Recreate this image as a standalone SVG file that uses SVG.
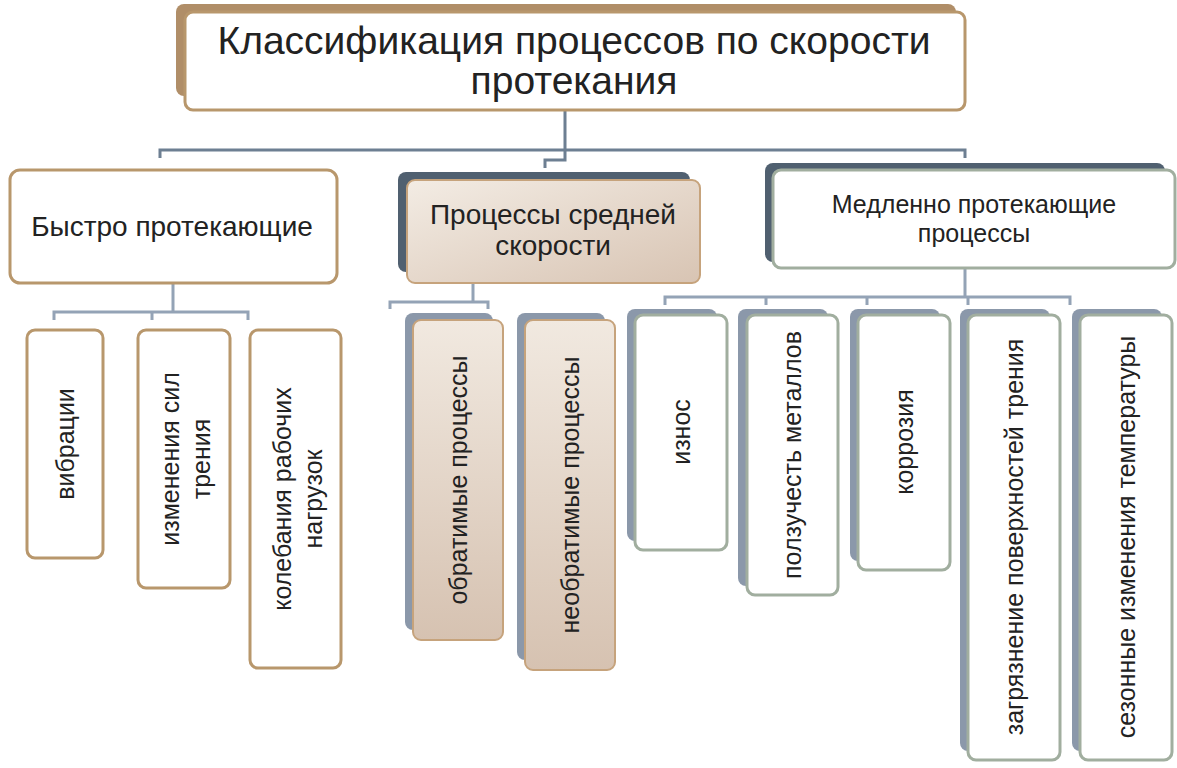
<svg xmlns="http://www.w3.org/2000/svg" width="1177" height="768" viewBox="0 0 1177 768">
<defs>
<linearGradient id="beige" x1="0" y1="0" x2="1" y2="1"><stop offset="0" stop-color="#f3ece4"/><stop offset="1" stop-color="#d8c4b3"/></linearGradient>
<linearGradient id="beigeV" x1="0" y1="0" x2="0" y2="1"><stop offset="0" stop-color="#f1e9e0"/><stop offset="1" stop-color="#d6c2b1"/></linearGradient>
<style>
text{font-family:"Liberation Sans",Arial,sans-serif;fill:#222;text-anchor:middle}
.tan{fill:#fff;stroke:#b8976c;stroke-width:3}
.grn{fill:#fff;stroke:#a1ae9f;stroke-width:3}
.bei{fill:url(#beigeV);stroke:#c6a37c;stroke-width:2}
.sd{fill:#506070}
.sb{fill:#8b98aa}
.st{fill:#b08e68}
.c{fill:none;stroke:#6d7f92;stroke-width:3}
.c2{fill:none;stroke:#94a3b6;stroke-width:3}
.v{font-size:25px}
</style>
</defs>
<rect width="1177" height="768" fill="#fff"/>
<g id="connectors">
<path class="c" d="M565 110V150M160 158V150H965V158M565 150V160H545V168"/>
<path class="c2" d="M173 283V312M54 320V312H248V320M152 312V320"/>
<path class="c2" d="M473 283V302M390 309V302H488V309"/>
<path class="c2" d="M965 268V297M665 305V297H1070V305M766 297V305M867 297V305M968 297V305"/>
</g>
<g id="root">
<rect class="st" x="176" y="4" width="780" height="92" rx="8"/>
<rect class="tan" x="185" y="12" width="780" height="98" rx="8"/>
<text x="574" y="54" font-size="39">Классификация процессов по скорости</text>
<text x="574" y="94" font-size="39">протекания</text>
</g>
<g id="fast">
<rect class="tan" x="10" y="170" width="327" height="113" rx="10"/>
<text x="172" y="236" font-size="28">Быстро протекающие</text>
</g>
<g id="medium">
<rect class="sd" x="398" y="172" width="292" height="100" rx="8"/>
<rect x="407" y="180" width="293" height="103" rx="8" fill="url(#beige)" stroke="#c6a37c" stroke-width="2"/>
<text x="553" y="224" font-size="28">Процессы средней</text>
<text x="553" y="255" font-size="28">скорости</text>
</g>
<g id="slow">
<rect class="sd" x="765" y="163" width="400" height="99" rx="8"/>
<rect class="grn" x="773" y="170" width="402" height="98" rx="8"/>
<text x="974" y="213" font-size="25">Медленно протекающие</text>
<text x="974" y="242" font-size="25">процессы</text>
</g>
<g id="vib"><rect class="tan" x="27" y="330" width="76" height="228" rx="8"/>
<text class="v" transform="translate(74,444) rotate(-90)">вибрации</text></g>
<g id="izm"><rect class="tan" x="138" y="330" width="92" height="258" rx="8"/>
<text class="v" transform="translate(179,459) rotate(-90)">изменения сил</text>
<text class="v" transform="translate(210,459) rotate(-90)">трения</text></g>
<g id="kol"><rect class="tan" x="250" y="330" width="91" height="338" rx="8"/>
<text class="v" transform="translate(291,499) rotate(-90)">колебания рабочих</text>
<text class="v" transform="translate(322,499) rotate(-90)">нагрузок</text></g>
<g id="obr"><rect class="sb" x="405" y="313" width="88" height="317" rx="8"/>
<rect class="bei" x="413" y="320" width="90" height="320" rx="8"/>
<text class="v" transform="translate(467,480) rotate(-90)">обратимые процессы</text></g>
<g id="neobr"><rect class="sb" x="517" y="313" width="88" height="347" rx="8"/>
<rect class="bei" x="525" y="320" width="90" height="350" rx="8"/>
<text class="v" transform="translate(579,495) rotate(-90)">необратимые процессы</text></g>
<g id="iznos"><rect class="sb" x="627" y="309" width="90" height="232" rx="8"/>
<rect class="grn" x="635" y="315" width="92" height="235" rx="8"/>
<text class="v" transform="translate(690,432) rotate(-90)">износ</text></g>
<g id="polz"><rect class="sb" x="738" y="309" width="90" height="277" rx="8"/>
<rect class="grn" x="747" y="315" width="91" height="280" rx="8"/>
<text class="v" transform="translate(801,455) rotate(-90)">ползучесть металлов</text></g>
<g id="korr"><rect class="sb" x="850" y="309" width="90" height="252" rx="8"/>
<rect class="grn" x="858" y="315" width="92" height="255" rx="8"/>
<text class="v" transform="translate(913,442) rotate(-90)">коррозия</text></g>
<g id="zagr"><rect class="sb" x="960" y="309" width="90" height="442" rx="8"/>
<rect class="grn" x="968" y="315" width="92" height="445" rx="8"/>
<text class="v" transform="translate(1023,537) rotate(-90)">загрязнение поверхностей трения</text></g>
<g id="sez"><rect class="sb" x="1072" y="309" width="90" height="442" rx="8"/>
<rect class="grn" x="1080" y="315" width="92" height="445" rx="8"/>
<text class="v" transform="translate(1135,537) rotate(-90)">сезонные изменения температуры</text></g>
</svg>
